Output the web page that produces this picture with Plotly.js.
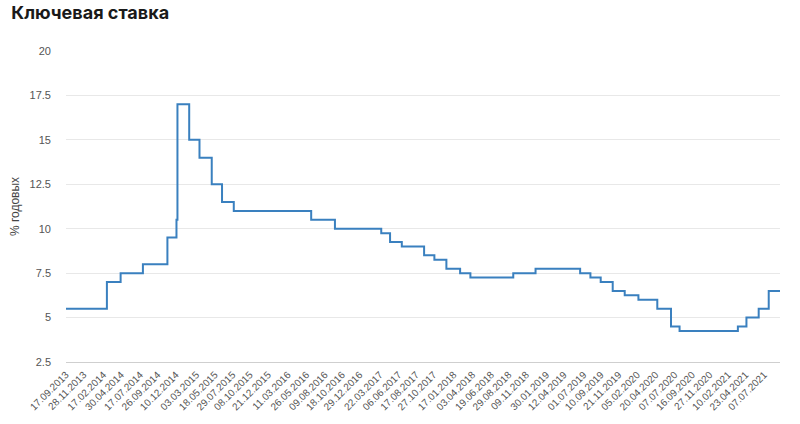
<!DOCTYPE html>
<html>
<head>
<meta charset="utf-8">
<script src="https://cdn.plot.ly/plotly-3.0.1.min.js"></script>
<style>html,body{margin:0;padding:0;background:#fff;}#chart{width:800px;height:424px;}</style>
</head>
<body>
<div id="chart"></div>
<script>
// Dates when the key rate changed (and final observation date)
const changeDates = [
  "2013-09-17","2014-03-03","2014-04-28","2014-07-28","2014-11-05","2014-12-12","2014-12-16",
  "2015-02-02","2015-03-16","2015-05-05","2015-06-16","2015-08-03","2016-06-14","2016-09-19",
  "2017-03-27","2017-05-02","2017-06-19","2017-09-18","2017-10-30","2017-12-18","2018-02-12",
  "2018-03-26","2018-09-17","2018-12-17","2019-06-17","2019-07-29","2019-09-09","2019-10-28",
  "2019-12-16","2020-02-10","2020-04-27","2020-06-22","2020-07-27","2021-03-22","2021-04-26",
  "2021-06-15","2021-07-26","2021-09-10"
];
const rates = [
  5.5,7.0,7.5,8.0,9.5,10.5,17.0,
  15.0,14.0,12.5,11.5,11.0,10.5,10.0,
  9.75,9.25,9.0,8.5,8.25,7.75,7.5,
  7.25,7.5,7.75,7.5,7.25,7.0,6.5,
  6.25,6.0,5.5,4.5,4.25,4.5,5.0,
  5.5,6.5,6.5
];
const tickDates = [
  "2013-09-17","2013-11-28","2014-02-17","2014-04-30","2014-07-17","2014-09-26","2014-12-10",
  "2015-03-03","2015-05-18","2015-07-29","2015-10-08","2015-12-21","2016-03-11","2016-05-26",
  "2016-08-09","2016-10-18","2016-12-29","2017-03-22","2017-06-06","2017-08-17","2017-10-27",
  "2018-01-17","2018-04-03","2018-06-19","2018-08-29","2018-11-09","2019-01-30","2019-04-12",
  "2019-07-01","2019-09-10","2019-11-21","2020-02-05","2020-04-20","2020-07-07","2020-09-16",
  "2020-11-27","2021-02-10","2021-04-23","2021-07-07"
];
const tickLabels = tickDates.map(d => { const p = d.split("-"); return p[2] + "." + p[1] + "." + p[0]; });
const yTicks = [2.5,5,7.5,10,12.5,15,17.5,20];

const trace = {
  x: changeDates, y: rates, type: "scatter", mode: "lines",
  line: {shape: "hv", color: "#3a80bf", width: 2},
  hoverinfo: "x+y"
};
const layout = {
  width: 800, height: 424,
  margin: {l: 66, r: 20, t: 51, b: 62},
  paper_bgcolor: "#fff", plot_bgcolor: "#fff",
  showlegend: false,
  title: {text: "<b>Ключевая ставка</b>", x: 0.014, xanchor: "left", y: 0.985, yanchor: "top",
          font: {family: "Inter, 'Open Sans', sans-serif", size: 18, color: "#1a1a1a"}},
  font: {family: "'Liberation Sans', Arial, sans-serif", color: "#555"},
  xaxis: {
    type: "date", range: ["2013-09-17", "2021-09-10"],
    tickvals: tickDates, ticktext: tickLabels, tickangle: -45,
    tickfont: {size: 10, color: "#555"},
    showgrid: false, zeroline: false,
    showline: true, linecolor: "#cfcfcf", linewidth: 1,
    ticks: "", ticklabelstandoff: 2
  },
  yaxis: {
    range: [2.5, 20], tickvals: yTicks, ticktext: yTicks.map(String),
    tickfont: {size: 11, color: "#555"},
    gridcolor: "#e8e8e8", gridwidth: 1, zeroline: false, showline: false,
    ticks: "", ticklabelstandoff: 14,
    title: {text: "% годовых", font: {size: 12, color: "#444"}, standoff: 7}
  }
};
Plotly.newPlot("chart", [trace], layout, {displayModeBar: false, staticPlot: true});
</script>
</body>
</html>
